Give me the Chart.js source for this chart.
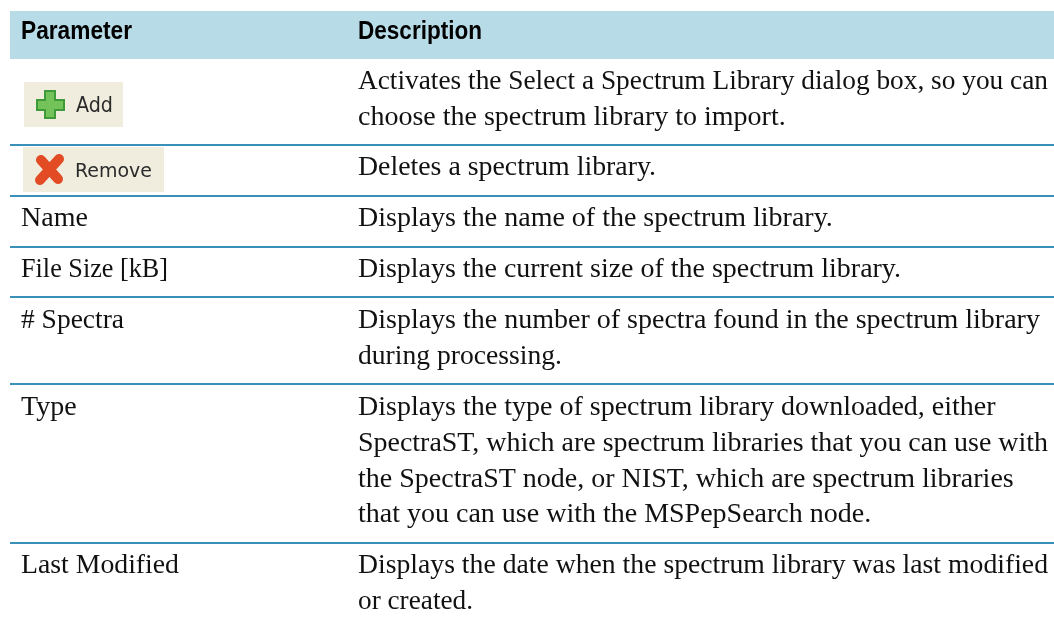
<!DOCTYPE html>
<html>
<head>
<meta charset="utf-8">
<script src="https://cdn.jsdelivr.net/npm/chart.js@4"></script>
<style>
html, body { margin: 0; padding: 0; background: #fff; }
#wrap { width: 1054px; height: 624px; }
</style>
</head>
<body>
<div id="wrap"><canvas id="tabla" width="1054" height="624"></canvas></div>
<script>
const headers = ["Parameter", "Description"];
const parameters = ["Add", "Remove", "Name", "File Size [kB]", "# Spectra", "Type", "Last Modified"];
const descriptions = [
    ["Activates the Select a Spectrum Library dialog box, so you can", "choose the spectrum library to import."],
    ["Deletes a spectrum library."],
    ["Displays the name of the spectrum library."],
    ["Displays the current size of the spectrum library."],
    ["Displays the number of spectra found in the spectrum library", "during processing."],
    ["Displays the type of spectrum library downloaded, either", "SpectraST, which are spectrum libraries that you can use with", "the SpectraST node, or NIST, which are spectrum libraries", "that you can use with the MSPepSearch node."],
    ["Displays the date when the spectrum library was last modified", "or created."],
];

// layout of the table, in pixels of the picture
const rowLines = [145, 196, 247, 297, 384, 543];
const rowBaselines = [89, 175, 226, 277, 328, 415, 573];
const lineGap = 35.8;
const colLeft = 21, colRight = 358;
const paramWidths = [0, 0, 68, 147, 103, 56, 158];
const descWidths = [[690, 433], [298], [476], [543], [689, 204], [641, 690, 662, 517], [690, 115]];
const SERIF = "'Liberation Serif', serif";
const BODY_FONT = "28px " + SERIF;

function drawAddButton(ctx) {
    ctx.fillStyle = "#f0eddf";
    ctx.fillRect(24, 82, 99, 45);
    ctx.save();
    ctx.filter = "blur(0.6px)";
    ctx.fillStyle = "#73c25a";
    ctx.strokeStyle = "#3f9a3a";
    ctx.lineWidth = 2;
    ctx.beginPath();
    ctx.moveTo(45, 91); ctx.lineTo(55, 91); ctx.lineTo(55, 100); ctx.lineTo(64, 100);
    ctx.lineTo(64, 110); ctx.lineTo(55, 110); ctx.lineTo(55, 118); ctx.lineTo(45, 118);
    ctx.lineTo(45, 110); ctx.lineTo(37, 110); ctx.lineTo(37, 100); ctx.lineTo(45, 100);
    ctx.closePath();
    ctx.fill();
    ctx.stroke();
    ctx.fillStyle = "#2a2a2a";
    ctx.font = "21px 'DejaVu Sans'";
    ctx.fillText(parameters[0], 76, 112, 37);
    ctx.restore();
}

function drawRemoveButton(ctx) {
    ctx.fillStyle = "#f0eddf";
    ctx.fillRect(23, 147, 141, 45);
    ctx.save();
    ctx.filter = "blur(0.7px)";
    ctx.lineCap = "round";
    ctx.beginPath();
    ctx.moveTo(41, 160); ctx.lineTo(58, 179);
    ctx.moveTo(59, 159); ctx.lineTo(40, 180);
    ctx.strokeStyle = "#e24b24";
    ctx.lineWidth = 10;
    ctx.stroke();
    ctx.fillStyle = "#2a2a2a";
    ctx.font = "20px 'DejaVu Sans'";
    ctx.fillText(parameters[1], 75, 177, 77);
    ctx.restore();
}

const tablePlugin = {
    id: "tablePlugin",
    afterDraw(chart) {
        const ctx = chart.ctx;
        ctx.save();
        ctx.textBaseline = "alphabetic";
        // header band
        ctx.fillStyle = "#b8dbe8";
        ctx.fillRect(10, 11, 1044, 48);
        ctx.fillStyle = "#000";
        ctx.font = "bold 25px 'Liberation Sans'";
        ctx.fillText(headers[0], colLeft, 39, 111);
        ctx.fillText(headers[1], colRight, 39, 124);
        // separators
        ctx.fillStyle = "#3a90b8";
        rowLines.forEach((y) => ctx.fillRect(10, y - 1, 1044, 2));
        // rows
        drawAddButton(ctx);
        drawRemoveButton(ctx);
        ctx.fillStyle = "#111";
        ctx.font = BODY_FONT;
        parameters.forEach((p, i) => {
            if (i > 1) ctx.fillText(p, colLeft, rowBaselines[i], paramWidths[i]);
        });
        descriptions.forEach((lines, i) => {
            lines.forEach((l, j) => {
                ctx.fillText(l, colRight, rowBaselines[i] + j * lineGap, descWidths[i][j]);
            });
        });
        ctx.restore();
    },
};

new Chart(document.getElementById("tabla"), {
    type: "bar",
    data: { labels: parameters, datasets: [] },
    options: {
        responsive: false,
        animation: false,
        plugins: { legend: { display: false }, tooltip: { enabled: false } },
        scales: { x: { display: false }, y: { display: false } },
    },
    plugins: [tablePlugin],
});
</script>
</body>
</html>
